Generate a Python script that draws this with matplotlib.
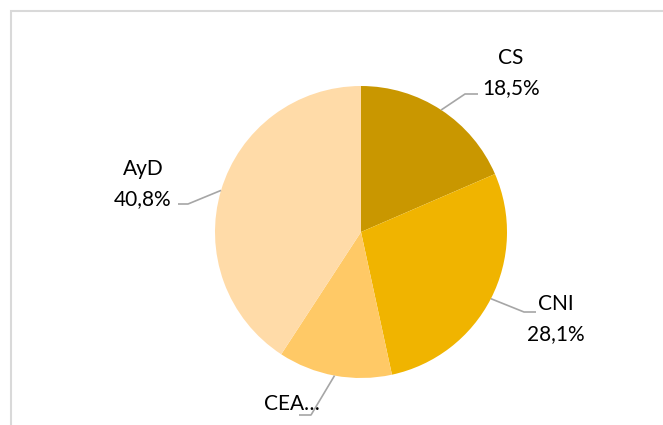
import matplotlib.pyplot as plt
import numpy as np
from matplotlib.patches import Rectangle

# datos del grafico
categorias = ["CS", "CNI", "CEA…", "AyD"]
porcentajes = [18.5, 28.1, 12.6, 40.8]
etiquetas_pct = ["18,5%", "28,1%", "", "40,8%"]
colores = ["#C99700", "#F0B400", "#FFC966", "#FFDBA8"]

# posiciones de las etiquetas en pixeles (x, y desde arriba)
pos_nombre = [(511, 58), (556, 304), (292, 404), (143, 169)]
codo = [(465, 94), (524, 312), (311, 415), (188, 204)]
fin = [(478, 94), (536, 312), (299, 415), (178, 204)]

W, H = 663, 425
cx, cy, r = 361, H - 232, 146

plt.rcParams['font.family'] = ['Lato', 'DejaVu Sans']
fig = plt.figure(figsize=(W / 100, H / 100), dpi=100)
ax = fig.add_axes([0, 0, 1, 1])
ax.set_xlim(0, W)
ax.set_ylim(0, H)
ax.set_aspect("equal")
ax.axis("off")

# marco del area del grafico
ax.add_patch(Rectangle((11, -20), W + 20, H - 11 + 20, fill=False,
                       edgecolor="#D9D9D9", linewidth=1.5))

wedges, _ = ax.pie(porcentajes, colors=colores, startangle=90, counterclock=False,
                   center=(cx, cy), radius=r, frame=True,
                   wedgeprops=dict(linewidth=0))
ax.set_xlim(0, W)
ax.set_ylim(0, H)
ax.axis("off")

for i, w in enumerate(wedges):
    ang = np.deg2rad((w.theta1 + w.theta2) / 2)
    x0 = cx + r * np.cos(ang)
    y0 = cy + r * np.sin(ang)
    ax.plot([x0, codo[i][0], fin[i][0]], [y0, H - codo[i][1], H - fin[i][1]],
            color="#A6A6A6", linewidth=1.2, solid_capstyle="butt")
    nx, ny = pos_nombre[i]
    ax.text(nx, H - ny, categorias[i], ha="center", va="center", fontsize=15, color="black")
    if etiquetas_pct[i]:
        ax.text(nx, H - ny - 30, etiquetas_pct[i], ha="center", va="center",
                fontsize=15, color="black")

plt.savefig("out.png", dpi=100)
